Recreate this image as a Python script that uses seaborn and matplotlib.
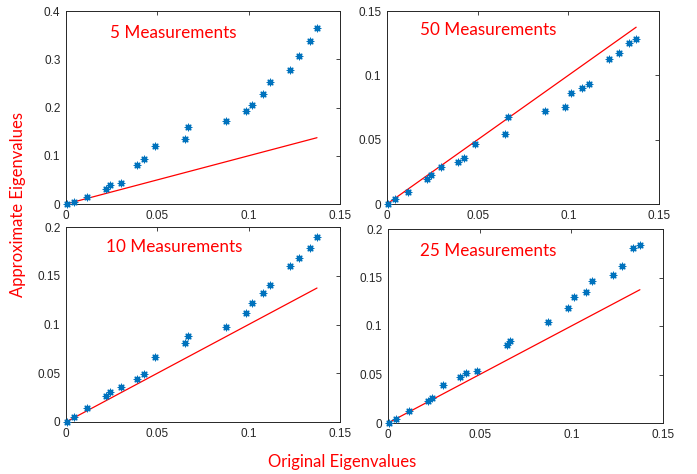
import numpy as np
import pandas as pd
import matplotlib
matplotlib.use("Agg")
import matplotlib.pyplot as plt
import seaborn as sns

orig = [0.0004, 0.0044, 0.0117, 0.0219, 0.0241, 0.0299, 0.0391, 0.0427, 0.0487,
        0.0651, 0.0666, 0.0874, 0.0984, 0.1016, 0.1078, 0.1115, 0.1226, 0.1277,
        0.1336, 0.1374]
approx5 = [0.0, 0.005, 0.014, 0.031, 0.039, 0.044, 0.081, 0.094, 0.121, 0.135,
           0.160, 0.171, 0.193, 0.205, 0.228, 0.252, 0.277, 0.307, 0.337, 0.365]
approx50 = [0.0, 0.004, 0.0096, 0.0196, 0.0227, 0.0289, 0.033, 0.036, 0.0465,
            0.0545, 0.0676, 0.072, 0.0757, 0.086, 0.0899, 0.0935, 0.113, 0.117,
            0.125, 0.1286]
approx10 = [0.0, 0.005, 0.0144, 0.027, 0.031, 0.0357, 0.0436, 0.049, 0.067, 0.081,
            0.088, 0.097, 0.112, 0.122, 0.132, 0.141, 0.160, 0.168, 0.178, 0.190]
approx25 = [0.0, 0.0045, 0.0124, 0.023, 0.026, 0.039, 0.0475, 0.052, 0.0537, 0.080,
            0.0847, 0.104, 0.119, 0.130, 0.135, 0.146, 0.153, 0.162, 0.180, 0.183]
line_x = [0.0, 0.1374]

titles = ["5 Measurements", "50 Measurements", "10 Measurements", "25 Measurements"]
series = [approx5, approx50, approx10, approx25]
ylims = [(0, 0.4), (0, 0.15), (0, 0.2), (0, 0.2)]
yticks = [[0, 0.1, 0.2, 0.3, 0.4], [0, 0.05, 0.1, 0.15],
          [0, 0.05, 0.1, 0.15, 0.2], [0, 0.05, 0.1, 0.15, 0.2]]
yticklabels = [["0", "0.1", "0.2", "0.3", "0.4"], ["0", "0.05", "0.1", "0.15"],
               ["0", "0.05", "0.1", "0.15", "0.2"], ["0", "0.05", "0.1", "0.15", "0.2"]]
xticks = [0, 0.05, 0.1, 0.15]
xticklabels = ["0", "0.05", "0.1", "0.15"]

sns.set_theme(style="white")
plt.rcParams['font.family'] = ['Liberation Sans', 'DejaVu Sans']

W, H = 697, 474
fig = plt.figure(figsize=(W / 100, H / 100), dpi=100)

# pixel boxes: left, right, top, bottom
boxes = [(66, 340, 11, 204), (387, 659, 11, 204), (66, 340, 227, 422), (388, 663, 229, 423)]
title_pos = [(110, 33), (420, 30), (106, 247), (420, 251)]

blue = "#0072BD"
asterisk = (8, 2, 0)

for i in range(4):
    l, r, t, b = boxes[i]
    ax = fig.add_axes([l / W, 1 - b / H, (r - l) / W, (b - t) / H])
    ax.patch.set_alpha(0)
    df = pd.DataFrame({"orig": orig, "approx": series[i]})
    sns.lineplot(x=line_x, y=line_x, ax=ax, color="#FF0000", linewidth=0.9)
    sns.scatterplot(data=df, x="orig", y="approx", ax=ax, marker=asterisk,
                    s=22, color=blue, edgecolor=blue, linewidth=0.9, zorder=3,
                    clip_on=False)
    ax.set_xlim(0, 0.15)
    ax.set_ylim(*ylims[i])
    ax.set_xticks(xticks)
    ax.set_xticklabels(xticklabels)
    ax.set_yticks(yticks[i])
    ax.set_yticklabels(yticklabels[i])
    ax.set_xlabel("")
    ax.set_ylabel("")
    ax.tick_params(direction="in", length=3, width=0.6, colors="#262626",
                   labelsize=8.5, top=True, right=True, pad=4)
    for sp in ax.spines.values():
        sp.set_visible(True)
        sp.set_color("#262626")
        sp.set_linewidth(0.7)
    tx, ty = title_pos[i]
    fig.text(tx / W, 1 - ty / H, titles[i], color="#FF0000", fontsize=12.3,
             family=["Lato", "DejaVu Sans"], ha="left", va="center")

fig.text(18 / W, 1 - 204 / H, "Approximate Eigenvalues", color="#FF0000",
         fontsize=12, family=["Lato", "DejaVu Sans"], rotation=90,
         ha="center", va="center")
fig.text(342 / W, 1 - 462 / H, "Original Eigenvalues", color="#FF0000",
         fontsize=12, family=["Lato", "DejaVu Sans"], ha="center", va="center")

fig.savefig("out.png", dpi=100)
